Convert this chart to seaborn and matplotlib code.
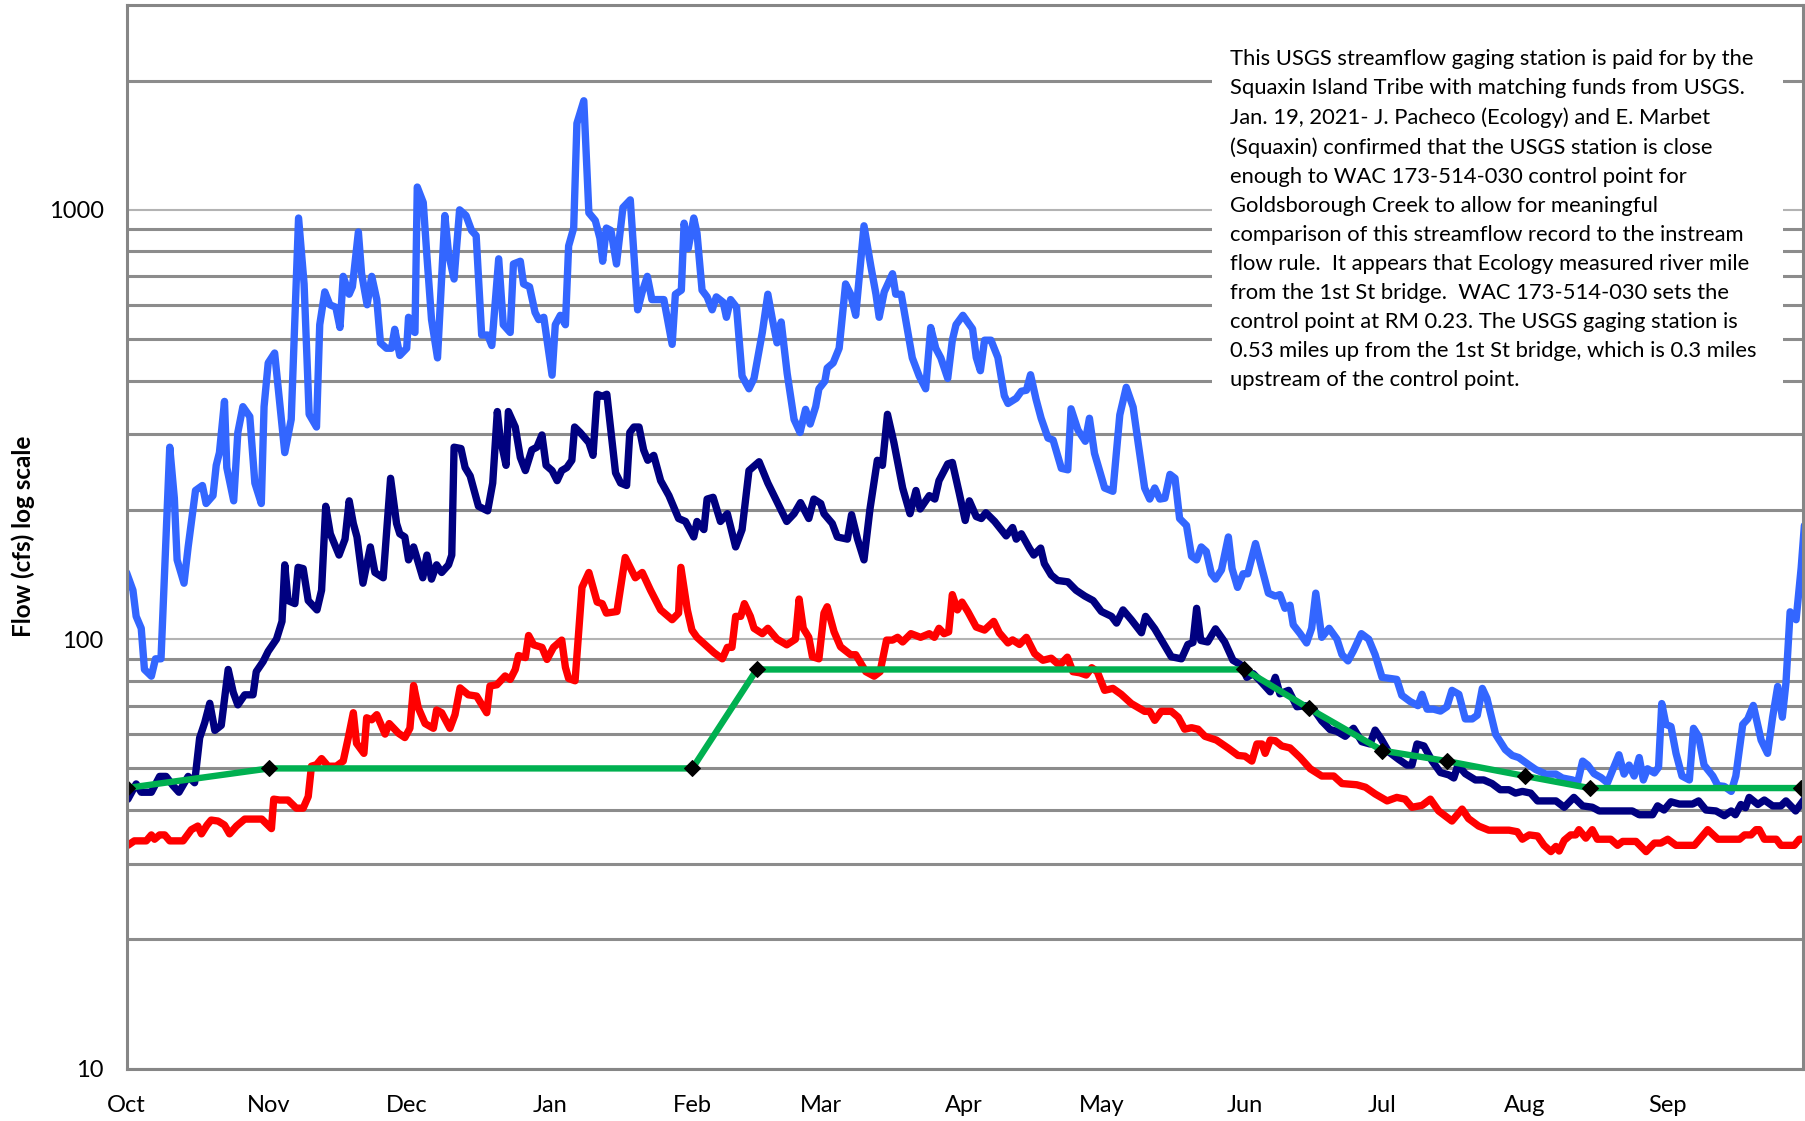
import matplotlib
matplotlib.use("Agg")
import matplotlib.pyplot as plt
import seaborn as sns
from matplotlib.ticker import NullFormatter
from matplotlib.patches import Rectangle

# ---------------- data (day 0 = Oct 1, water year) ----------------
month_labels = ["Oct", "Nov", "Dec", "Jan", "Feb", "Mar", "Apr", "May", "Jun", "Jul", "Aug", "Sep"]
month_lengths = [31, 30, 31, 31, 28, 31, 30, 31, 30, 31, 31, 30]

# daily maximum flow (cfs) - light blue
max_day = [0, 1.4, 2.1, 3.2, 3.9, 5.4, 6.3, 7.5, 9.4, 10.4, 11, 12.5, 13.4, 15, 16.5, 17.3, 18.8, 19.5, 20.2,
           21.3, 21.8, 23.3, 24.2, 25.3, 26.8, 27.9, 29.3, 29.9, 30.8, 32.2, 34.4, 35.8, 37.4, 38.6, 39.7,
           41.3, 42, 43.1, 44.2, 45.5, 46.4, 47.1, 48.4, 49.1, 50.4, 51.1, 52.3, 53.3, 54.4, 55.2, 56.5,
           57.6, 58.3, 59.4, 60.9, 61.3, 62, 62.7, 63.2, 64.5, 65.3, 66.3, 67.6, 69.2, 70, 71.2, 72.4, 73.8,
           75, 76, 77.2, 78.5, 79.4, 80.9, 81.9, 83.4, 84.1, 85.6, 86.3, 87.6, 88.8, 89.6, 90.7, 92.5, 93.2,
           94.3, 95.4, 96.1, 97.2, 97.9, 99.4, 100.5, 101.9, 102.9, 103.5, 104.3, 105.3, 106.5, 107.9, 109.5,
           111.1, 112.1, 113.2, 114.2, 116.8, 118.6, 119.3, 120.6, 121.2, 122.1, 123.3, 124, 125.1, 126.2,
           127.3, 128.2, 129.7, 130.4, 131.3, 132.6, 133.8, 135.3, 136.4, 138.2, 139.4, 140.4, 141.4, 142.3,
           143.6, 145.1, 146.4, 147.6, 148.6, 149.8, 150.5, 151.8, 152.3, 153.6, 154.9, 156.3, 157.4, 158.5,
           160.3, 161.8, 162.9, 163.6, 164.7, 166.5, 167.2, 168.4, 170.8, 172.3, 173.7, 174.8, 175.9, 177,
           178.5, 179.5, 180.3, 181.8, 183.9, 184.7, 185.6, 186.5, 187.9, 189.4, 190.8, 191.6, 193.4, 194.5,
           195.6, 196.5, 197.7, 198.8, 200.3, 201.4, 203.2, 204.6, 205.3, 206.8, 208.4, 209.3, 210.4, 212.6,
           214.4, 215.9, 217.3, 218.8, 219.9, 221.3, 222.4, 223.5, 224.6, 225.7, 226.8, 227.9, 228.9, 230.4,
           231.5, 232.6, 233.6, 234.7, 235.8, 236.7, 238, 239.5, 240.3, 241.5, 242.7, 243.7, 245.4, 246.8,
           248.2, 249.7, 250.7, 251.8, 252.9, 253.6, 255.1, 256.5, 257.6, 258.5, 259.8, 261.4, 263.1, 264.2,
           265.5, 266.7, 268.4, 270, 271.4, 272.9, 274.7, 276.1, 277.2, 279, 280.7, 281.6, 282.7, 284.1,
           285.6, 287, 288.1, 289.6, 291, 292.5, 293.6, 294.7, 295.7, 297.6, 299.7, 301.2, 302.6, 304.9,
           306.3, 308.5, 310.7, 312.1, 314.3, 315.4, 316.5, 317.6, 319, 320.5, 321.9, 323, 324.4, 325.5,
           326.6, 327.7, 328.8, 329.7, 330.6, 332.1, 333, 333.7, 334.6, 335.7, 336.8, 338.1, 339.7, 340.6,
           341.7, 342.9, 344.8, 345.9, 347.3, 348.8, 349.8, 351.3, 352.4, 353.6, 355.3, 356.7, 357.8, 358.9,
           359.9, 360.7, 361.6, 362.9, 364, 364.7]
max_cfs = [143, 130, 113, 106, 85, 82, 90, 90, 280, 213, 153, 135, 164, 222, 228, 207, 216, 254, 272,
           358, 251, 210, 303, 348, 330, 231, 207, 348, 440, 464, 272, 325, 957, 672, 334,
           312, 540, 644, 601, 593, 532, 700, 636, 662, 888, 710, 601, 700, 618, 490, 476,
           476, 527, 458, 476, 562, 525, 518, 1130, 1040, 780, 555, 452, 970, 790, 690, 1000, 970,
           895, 871, 511, 511, 483, 769, 540, 518, 748, 759, 672, 662, 577, 555, 562, 412, 540,
           568, 540, 824, 907, 1590, 1795, 984, 944, 859, 759, 907, 895, 748, 1012, 1055,
           585, 644, 700, 618, 618, 486, 636, 650, 931, 813, 957, 883, 650, 627,
           585, 627, 609, 562, 618, 593, 410, 383, 405, 518, 636, 555, 490, 548,
           416, 325, 303, 343, 317, 348, 383, 399, 428, 440, 476, 672, 636, 568,
           918, 738, 636, 562, 644, 710, 636, 636, 452, 410, 383, 532, 476, 452,
           405, 497, 540, 568, 528, 453, 422, 497, 497, 453, 369, 354, 364, 378,
           380, 413, 362, 327, 294, 291, 250, 248, 344, 307, 289, 327, 271, 225,
           221, 333, 386, 347, 286, 225, 212, 225, 212, 213, 242, 237, 191, 184,
           156, 153, 164, 160, 142, 138, 145, 173, 146, 132, 142, 142, 167, 146,
           128, 126, 127, 118, 120, 108, 103, 98, 106, 128, 101, 106, 100, 92,
           89, 94, 103, 100, 92, 81.5, 81, 80.6, 74, 71.6, 70, 74.4, 68.7, 68.7,
           68, 69.6, 76, 74.4, 65.2, 65.2, 66.5, 76.8, 72.8, 60, 55.3, 53.6, 53, 50.9,
           49.7, 48.5, 48.5, 47.5, 47, 46.3, 52, 50.9, 48.6, 47.6, 46.3, 49.5, 53.8, 48.5,
           50.9, 48, 53, 47, 49.9, 48.8, 50.3, 70.8, 63.3, 62.6, 54.2, 48, 47, 62,
           59.4, 50.9, 48, 45.6, 45.4, 44.2, 48, 63.3, 65.2, 70.1, 58.2, 54.2, 65.8, 77.6,
           65.8, 79.2, 115.8, 111, 146.5, 184]

# daily median flow (cfs) - navy
med_day = [0.3, 2.1, 3.2, 5.4, 7.2, 8.6, 10.1, 11.4, 13.4, 14.8, 15.9, 17, 18.1, 19.2, 20.6, 22.1, 23.2,
           24.2, 25.7, 27.5, 28.2, 29.7, 30.8, 32.6, 33.8, 34.4, 35.1, 36.6, 37.3, 38.4, 39.5, 41.4, 42.4,
           43.3, 44.3, 46.2, 47.5, 48.4, 49.3, 50.1, 51.4, 53, 54, 55.8, 57.4, 58.7, 59.4, 60.5, 61.3, 62.4,
           64.4, 65.3, 66.3, 67.4, 68.5, 70, 70.7, 71.2, 72.7, 73.6, 74.7, 76.5, 78.5, 79.6, 80.6, 81.2,
           82.5, 83, 84.5, 85.6, 86.7, 88.1, 89.2, 90.3, 91.2, 92.5, 93.6, 94.6, 95.7, 96.8, 97.4, 98.6,
           100.5, 101.4, 102.3, 103.4, 104.4, 106.3, 107.4, 108.7, 109.4, 110.3, 111.4, 112.4, 113.3,
           114.6, 116.1, 117.9, 120, 121.5, 123.3, 124, 125.5, 126.2, 127.5, 129.1, 130.6, 132.4, 133.8,
           135.3, 137.5, 139.4, 141.1, 143.5, 145.1, 146.5, 148.3, 149.4, 150.9, 151.6, 153.4, 154.5,
           156.7, 157.6, 158.9, 160.3, 161.6, 163.2, 164.3, 165.4, 166.8, 168.7, 170.3, 171.6, 172.5,
           174.5, 175.7, 176.6, 178.5, 179.5, 181, 182.3, 183.2, 184.7, 185.8, 186.8, 188.7, 191.2,
           192.6, 193.4, 194.5, 196.3, 197.2, 198.7, 199.5, 201, 202.4, 204.6, 206.4, 208.3, 210.1,
           211.9, 214.1, 215.2, 216.6, 218.4, 220.6, 221.5, 223.5, 227.1, 229.3, 230.7, 231.8, 232.6,
           233.5, 235, 236.7, 238.7, 240.5, 242.4, 243.5, 244.9, 246.8, 248.6, 249.7, 250.7, 252.6,
           254.4, 256.2, 258, 259.8, 261.6, 263.1, 264.9, 266.7, 268.5, 270.3, 271.4, 272.7, 274.3,
           276.5, 278.3, 279.4, 280.5, 282, 283.8, 285.6, 287.4, 288.5, 289.4, 291, 293.2, 295, 296.8,
           298.6, 300.5, 301.9, 303.4, 305.2, 306.7, 310.7, 312.5, 314.6, 316.5, 318.6, 320.1, 327.3,
           328.8, 331.7, 332.8, 334.2, 335.7, 337.5, 340.4, 341.7, 343.3, 345.5, 347.3, 348.8, 349.7,
           350.9, 351.9, 352.7, 354.6, 356, 357.8, 359.6, 360.7, 362.8, 364.7]
med_cfs = [42.4, 46, 44, 44, 47.9, 47.9, 45.6, 44, 47.9, 46.3, 58.9, 63.9, 70.9, 61.3, 63, 85, 75.2,
           70.3, 74.2, 74.2, 84, 88.7, 93.7, 100, 110, 149, 123, 121, 147, 146, 123, 117, 130,
           204, 176, 157, 171, 210, 186, 173, 135, 164, 143, 139, 237, 186, 176, 173, 153, 164,
           139, 157, 138, 149, 143, 149, 157, 280, 278, 251, 240, 204, 199, 231, 339, 295,
           254, 339, 312, 265, 247, 276, 280, 299, 254, 247, 234, 247, 251, 261, 312, 303,
           287, 268, 372, 368, 372, 244, 231, 228, 303, 312, 312, 276, 261,
           268, 234, 216, 191, 188, 173, 188, 180, 212, 214, 188, 196, 164, 180,
           247, 259, 231, 212, 188, 196, 208, 191, 212, 207, 196, 186, 173,
           171, 195, 171, 153, 201, 261, 254, 334, 287, 225, 196, 222, 201,
           216, 212, 234, 256, 258, 219, 189, 210, 193, 191, 197, 188, 174,
           182, 171, 176, 162.5, 157, 163, 150, 141, 137, 136, 130, 126, 123,
           116, 113, 109, 117, 111, 103.5, 113, 105.7, 91, 90, 97.2, 98.2, 118,
           99.3, 98.5, 105.7, 98.5, 89.3, 86.9, 81.5, 83.1, 79.2, 75.4, 81.5, 74.6, 76,
           69.6, 70, 68.7, 64.5, 61.6, 61, 59.4, 62, 57.7, 57, 61.4, 58.6, 54.7,
           52.5, 50.9, 50.9, 57, 56.4, 52, 48.9, 48.3, 47.5, 50.9, 48.6, 47, 47, 46.1,
           44.6, 44.6, 43.8, 44.2, 43.8, 42, 42, 40.6, 42.8, 40.9, 40.6, 39.8, 39.8,
           39, 39, 40.9, 40, 41.8, 41.3, 41.3, 42, 40, 39.8, 38.8, 39.8, 39,
           41.2, 40.5, 42.8, 41.2, 42.2, 40.9, 40.9, 42, 39.8, 42.4]

# daily minimum flow (cfs) - red
min_day = [0.3, 1.7, 4.3, 5.4, 6.1, 7.2, 8.3, 9.4, 12.3, 14.1, 15.5, 16.3, 17.5, 18.4, 19.9, 21.3, 22.4,
           23.9, 25.7, 29.4, 31.5, 32, 33.3, 35.1, 36.9, 38.4, 39.5, 40.2, 41.3, 42.4, 43.8, 45.6, 47.1,
           48.2, 49.3, 50, 51.6, 52.2, 53.3, 54.4, 56.2, 57.1, 59.1, 60.5, 61.6, 62.4, 63.4, 64.9, 66.7,
           67.4, 68.5, 70.3, 71.4, 72.5, 74.3, 76.1, 78.3, 79, 80.5, 82.3, 83.4, 84.5, 85.2, 86.7, 87.4,
           88.5, 90.3, 91.4, 92.8, 94.6, 95.4, 96.1, 97.5, 99, 100.5, 102.3, 103.4, 104.3, 106.6, 108.4,
           110.6, 112.1, 113.9, 116.1, 118.6, 120, 120.5, 121.9, 122.9, 124, 125.8, 127.7, 129.5, 130.6,
           131.6, 132.4, 133.5, 134.3, 135.6, 136.4, 138.2, 139.4, 141.4, 143.5, 145.4, 146.2, 147.1,
           148.3, 149.1, 150.5, 151.6, 152.3, 153.8, 155.2, 157.4, 158.5, 160.7, 162.5, 163.8, 165.2,
           166.5, 167.6, 168.7, 170.5, 172.6, 174.5, 175.6, 176.6, 177.7, 178.7, 179.5, 180.6, 181.6,
           182.9, 184.7, 186.5, 188.5, 189.7, 191.6, 192.6, 194.1, 195.6, 197.4, 199.2, 201, 202.8,
           204.5, 205.7, 207.2, 208.6, 209.8, 211, 212.6, 214.4, 216.2, 218.4, 221.3, 222.4, 223.5,
           224.9, 227.1, 228.6, 230, 231.5, 232.9, 234.4, 236.9, 239.5, 241.6, 243.1, 244.6, 245.7,
           246.8, 247.5, 248.6, 249.7, 251.1, 252.9, 255.1, 257.3, 259.8, 262.4, 264.2, 267.4, 269.3,
           271.4, 274, 276.1, 277.9, 279.4, 281.6, 283.4, 285.2, 288.1, 290.3, 291.7, 293.9, 296.1,
           300.5, 302.3, 303.4, 304.9, 306.7, 308.1, 309.6, 310.7, 311.4, 312.5, 313.9, 315, 315.7,
           317.2, 318.6, 319.7, 322.6, 324.1, 325.2, 328.1, 330.3, 332.1, 333.5, 335, 336.8, 340.8,
           343.7, 345.9, 350.6, 351.7, 353.1, 354.2, 354.9, 356, 358.6, 359.6, 362.5, 363.6, 364.7]
min_cfs = [33.1, 33.9, 33.9, 35, 34.2, 35, 35, 33.9, 33.9, 36, 36.7, 35.2, 36.9, 37.9, 37.7, 36.9, 35.2,
           36.7, 38.1, 38.1, 36.2, 42.4, 42.2, 42.2, 40.4, 40.4, 43, 50.6, 51, 52.7, 50.6, 50.6, 52,
           58.9, 67.4, 57.2, 54.2, 65.6, 64.9, 66.7, 60.1, 63.6, 60.4, 59, 62, 78, 69.3, 63.6, 62,
           68.4, 67.4, 62, 66.7, 77, 74.2, 73.7, 67.4, 77.8, 78.3, 82.1, 80.6, 85, 91.6, 90.6, 102,
           97, 95.7, 89.7, 95.7, 99.5, 86, 81, 80, 132, 143, 122, 121, 115, 116, 155,
           139, 143, 130, 117, 111, 115, 147, 117, 105, 101, 97, 93, 90, 95.7,
           95.7, 113, 113, 121, 113, 106, 103, 106, 100, 97, 100, 124, 106,
           101, 91, 90, 115, 119, 104, 96, 92, 92, 84, 82, 84, 99.5,
           99.5, 101, 98.5, 103, 101, 103, 101, 106, 103, 104, 127, 117, 122,
           115.8, 106.7, 105, 110, 103.5, 98, 99.6, 97.2, 101, 92.5, 89.3, 90.3, 86.9,
           90.8, 84, 83.5, 82.5, 85.8, 84, 76, 76.8, 74.4, 70.8, 67.9, 67.9, 64.7,
           67.9, 67.9, 65.8, 61.7, 62.2, 61.7, 59.4, 58.2, 55.7, 53.6, 53.4, 52, 57,
           57, 54.2, 58.2, 58, 56.4, 55.8, 53, 49.9, 48, 48, 46.1, 45.8, 45.2,
           43.6, 42, 42.8, 42.4, 40.6, 41, 42.4, 39.8, 37.7, 40.2, 38.2, 36.7, 35.9,
           35.9, 35.6, 34.2, 35, 34.8, 33.1, 32, 32.9, 32.1, 34, 35, 35, 36,
           34.4, 36, 34.2, 34.2, 33.1, 33.8, 33.8, 32, 33.5, 33.5, 34.2, 33.1, 33.1,
           36, 34.2, 34.2, 35, 35, 36, 36, 34.2, 34.2, 33.1, 33.1, 34.2, 34.2]

# instream flow rule (WAC 173-514-030), cfs
rule_day = [0, 31, 123, 137, 243, 257, 273, 287, 304, 318, 364]
rule_cfs = [45, 50, 50, 85, 85, 69, 55, 52, 48, 45, 45]

y_major = [10, 100, 1000]
y_minor = [20, 30, 40, 50, 60, 70, 80, 90, 200, 300, 400, 500, 600, 700, 800, 900, 2000]

note = ("This USGS streamflow gaging station is paid for by the\n"
        "Squaxin Island Tribe with matching funds from USGS.\n"
        "Jan. 19, 2021- J. Pacheco (Ecology) and E. Marbet\n"
        "(Squaxin) confirmed that the USGS station is close\n"
        "enough to WAC 173-514-030 control point for\n"
        "Goldsborough Creek to allow for meaningful\n"
        "comparison of this streamflow record to the instream\n"
        "flow rule.  It appears that Ecology measured river mile\n"
        "from the 1st St bridge.  WAC 173-514-030 sets the\n"
        "control point at RM 0.23. The USGS gaging station is\n"
        "0.53 miles up from the 1st St bridge, which is 0.3 miles\n"
        "upstream of the control point.")

# ---------------- style ----------------
sns.set_style("white")
plt.rcParams["font.family"] = ["Lato", "DejaVu Sans"]

W, H = 1806, 1121
fig = plt.figure(figsize=(W / 100, H / 100), dpi=100)
ax = fig.add_axes([126.5 / W, 1 - 1068.5 / H, (1803 - 126.5) / W, (1068.5 - 5) / H])

line_kw = dict(estimator=None, sort=False, legend=False, ax=ax,
               solid_joinstyle="round", solid_capstyle="round")
sns.lineplot(x=max_day, y=max_cfs, color="#3366FF", linewidth=5.3, **line_kw)
sns.lineplot(x=med_day, y=med_cfs, color="#000080", linewidth=5.3, **line_kw)
sns.lineplot(x=min_day, y=min_cfs, color="#FF0000", linewidth=5.3, **line_kw)
sns.lineplot(x=rule_day, y=rule_cfs, color="#00B050", linewidth=4.6, marker="D",
             markersize=8.5, markerfacecolor="black", markeredgecolor="black", **line_kw)

ax.set_yscale("log")
ax.set_ylim(10, 3000)
ax.set_xlim(0, 364.4)

# month ticks
starts = [0]
for n in month_lengths[:-1]:
    starts.append(starts[-1] + n)
ax.set_xticks(starts, labels=month_labels)
ax.set_yticks(y_major, labels=[str(v) for v in y_major])
ax.set_yticks(y_minor, minor=True)
ax.yaxis.set_minor_formatter(NullFormatter())

ax.grid(False)
ax.grid(True, which="major", axis="y", color="#B3B3B3", linewidth=1.5)
ax.grid(True, which="minor", axis="y", color="#8C8C8C", linewidth=2.2)
ax.set_axisbelow(True)

for s in ax.spines.values():
    s.set_visible(True)
    s.set_color("#868686")
    s.set_linewidth(2.2)

ax.tick_params(axis="x", which="major", direction="out", length=5, width=1.6, color="#868686",
               labelsize=17, pad=14, labelcolor="black")
ax.tick_params(axis="y", which="major", direction="out", length=4.5, width=1.6, color="#868686",
               labelsize=17, pad=12, labelcolor="black")
ax.tick_params(axis="y", which="minor", length=0)

ax.set_xlabel("")
ax.set_ylabel("Flow (cfs) log scale", fontsize=17.5, fontweight="bold", color="black")
ax.yaxis.label.set_va("center")
ax.yaxis.set_label_coords(-0.0615, 0.5)

# white text box with note
ax.add_patch(Rectangle((1212 / W, 1 - 405 / H), (1783 - 1212) / W, (405 - 18) / H,
                       transform=fig.transFigure, facecolor="white", edgecolor="none", zorder=1.5))
fig.text(1230 / W, 1 - 49 / H, note, ha="left", va="top", fontsize=15.8, linespacing=1.562,
         color="black", zorder=5)

fig.savefig("out.png", dpi=100)
